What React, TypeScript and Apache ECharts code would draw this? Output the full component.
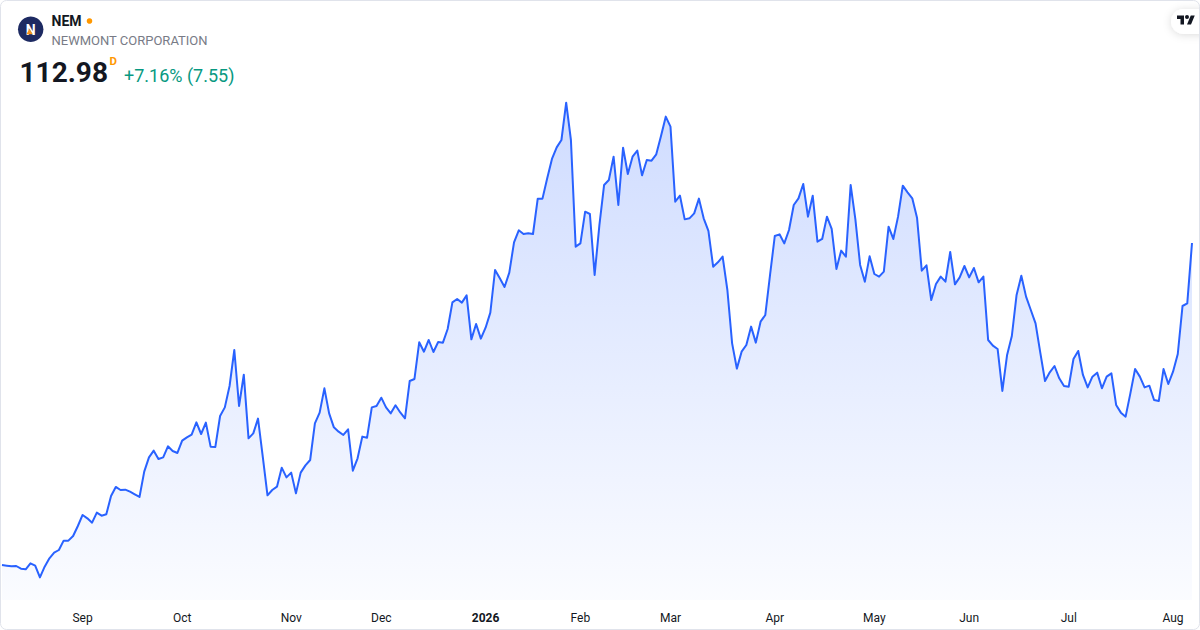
import React, { useEffect, useRef } from 'react';
import * as echarts from 'echarts';

// ---- time axis ----
const startDate = '2025-08-07';
const endDate = '2026-08-07';
const marketHolidays = [
  '2025-09-01', '2025-11-27', '2025-12-25', '2026-01-01', '2026-01-19',
  '2026-02-16', '2026-04-03', '2026-05-25', '2026-06-19', '2026-07-03',
];
const monthNames = ['Jan', 'Feb', 'Mar', 'Apr', 'May', 'Jun', 'Jul', 'Aug', 'Sep', 'Oct', 'Nov', 'Dec'];

// ---- daily closes ----
const aug2025 = [72.73, 72.65, 72.57, 72.61, 72.28, 72.19, 72.94, 72.65, 71.19, 72.53, 73.57, 74.28, 74.61, 75.78, 75.78, 76.36, 77.61];
const sep2025 = [78.99, 78.57, 78.03, 79.28, 78.9, 79.07, 81.36, 82.49, 82.11, 82.15, 81.9, 81.57, 81.24, 84.4, 86.19, 87.03, 85.99, 86.19, 87.57, 86.99, 86.74];
const oct2025 = [88.28, 88.69, 89.03, 90.57, 89.11, 90.53, 87.53, 87.49, 91.36, 92.44, 95.11, 99.61, 92.61, 96.53, 88.57, 89.19, 91.03, 86.28, 81.44, 82.11, 82.53, 84.9, 83.69];
const nov2025 = [84.28, 81.69, 84.28, 85.19, 85.86, 90.44, 91.78, 94.82, 91.69, 89.94, 89.4, 88.99, 89.69, 84.53, 86.07, 88.78, 88.65, 92.44, 92.61];
const dec2025 = [93.65, 92.44, 91.69, 92.7, 91.8, 91.07, 95.74, 95.99, 100.57, 99.4, 100.86, 99.36, 100.61, 100.53, 102.24, 105.57, 105.99, 105.53, 106.44, 100.94, 102.86, 101.03];
const jan2026 = [102.4, 104.28, 109.61, 108.57, 107.49, 109.28, 113.07, 114.57, 114.11, 114.19, 114.11, 118.53, 118.53, 121.07, 123.49, 124.94, 125.86, 130.53, 125.86, 112.53];
const feb2026 = [112.94, 116.9, 116.61, 108.99, 115.2, 120.24, 120.86, 123.78, 117.74, 124.9, 121.61, 123.78, 124.53, 121.44, 123.36, 123.28, 124.07, 126.36, 128.78];
const mar2026 = [127.53, 118.15, 118.9, 115.94, 116.07, 116.69, 118.53, 116.07, 114.49, 110.03, 110.57, 111.28, 107.11, 100.44, 97.28, 99.4, 100.24, 102.53, 100.53, 103.15, 103.99, 108.99];
const apr2026 = [113.86, 114.07, 112.94, 114.61, 117.74, 118.57, 120.36, 116.28, 118.9, 113.15, 113.49, 116.28, 114.74, 109.74, 112.03, 111.28, 120.24, 115.94, 110.24, 108.15, 111.32];
const may2026 = [109.11, 108.78, 109.4, 115.03, 113.49, 116.28, 120.15, 119.32, 118.57, 116.15, 109.53, 110.19, 105.86, 107.86, 108.78, 108.15, 111.86, 107.82, 108.69, 110.11];
const jun2026 = [108.69, 109.86, 108.07, 108.78, 100.86, 100.15, 99.74, 94.49, 98.99, 101.36, 106.49, 108.9, 106.28, 104.61, 102.94, 99.28, 95.74, 96.82, 97.61, 96.07, 95.11];
const jul2026 = [95.03, 98.49, 99.49, 96.49, 94.94, 96.28, 96.78, 94.82, 96.28, 96.69, 92.74, 91.78, 91.28, 94.19, 97.24, 96.28, 94.94, 95.15, 93.36, 93.24, 97.24, 95.36];
const aug2026 = [96.9, 99.11, 105.11, 105.43, 112.98];

// ---- header texts ----
const ticker = 'NEM';
const companyName = 'NEWMONT CORPORATION';
const lastPrice = '112.98';
const intervalMark = 'D';
const changeText = '+7.16% (7.55)';

const FONT = 'Roboto, "Noto Sans", Arial, sans-serif';

function tradingDays(): string[] {
  const out: string[] = [];
  const d = new Date(startDate + 'T00:00:00Z');
  const end = new Date(endDate + 'T00:00:00Z');
  while (d.getTime() <= end.getTime()) {
    const wd = d.getUTCDay();
    const s = d.toISOString().slice(0, 10);
    if (wd !== 0 && wd !== 6 && !marketHolidays.includes(s)) out.push(s);
    d.setUTCDate(d.getUTCDate() + 1);
  }
  return out;
}

const TV_LOGO =
  'M14 22H7V11H0V4h14v18zM28 22h-8l7.5-18h8L28 22zM20 11a4 4 0 1 0 0-8 4 4 0 0 0 0 8z';

let registered = false;
function registerShapes() {
  if (registered) return;
  registered = true;
  echarts.graphic.registerShape('tvlogo', echarts.graphic.extendPath(TV_LOGO, {}) as any);
}

export default function App() {
  const ref = useRef<HTMLDivElement>(null);

  useEffect(() => {
    if (!ref.current) return;
    registerShapes();
    const chart = echarts.init(ref.current, null, { renderer: 'svg' });

    const dates = tradingDays();
    const closes = [
      ...aug2025, ...sep2025, ...oct2025, ...nov2025, ...dec2025, ...jan2026,
      ...feb2026, ...mar2026, ...apr2026, ...may2026, ...jun2026, ...jul2026, ...aug2026,
    ];
    const monthStart = new Set<number>();
    for (let i = 1; i < dates.length; i++) {
      if (dates[i].slice(0, 7) !== dates[i - 1].slice(0, 7)) monthStart.add(i);
    }

    const option: any = {
      animation: false,
      backgroundColor: '#ffffff',
      grid: { left: 2, right: 8, top: 80, bottom: 30, containLabel: false, outerBoundsMode: 'none' },
      xAxis: {
        type: 'category',
        data: dates,
        boundaryGap: false,
        axisLine: { show: false },
        axisTick: { show: false },
        splitLine: { show: false },
        axisLabel: {
          interval: (idx: number) => monthStart.has(idx),
          formatter: (val: string) => {
            const m = +val.slice(5, 7);
            if (m === 1) return '{y|' + val.slice(0, 4) + '}';
            return monthNames[m - 1];
          },
          color: '#131722',
          fontSize: 12,
          fontFamily: FONT,
          margin: 12,
          rich: {
            y: { fontWeight: 'bold', fontSize: 12, color: '#131722', fontFamily: FONT },
          },
        },
      },
      yAxis: {
        type: 'value',
        min: 68.36,
        max: 133.36,
        show: false,
        splitLine: { show: false },
      },
      series: [
        {
          type: 'line',
          data: closes,
          showSymbol: false,
          symbol: 'none',
          lineStyle: { color: '#2962ff', width: 2, join: 'round' },
          areaStyle: {
            color: new echarts.graphic.LinearGradient(0, 0, 0, 1, [
              { offset: 0, color: 'rgba(41,98,255,0.32)' },
              { offset: 1, color: 'rgba(41,98,255,0.03)' },
            ]),
          },
          silent: true,
        },
      ],
      graphic: [
        // logo
        { type: 'circle', shape: { cx: 30.7, cy: 29.3, r: 12.7 }, style: { fill: '#1d2a62' }, z: 10 },
        {
          type: 'text', x: 30.7, y: 29.6, z: 11,
          style: { text: 'N', fill: '#ffffff', fontSize: 14, fontWeight: 'bold', fontFamily: FONT, align: 'center', verticalAlign: 'middle', textAlign: 'center', textVerticalAlign: 'middle' },
        },
        { type: 'polygon', shape: { points: [[26.3, 34.3], [29.6, 29], [32.8, 34.3]] }, style: { fill: '#f7941d' }, z: 12 },
        // ticker
        {
          type: 'text', x: 51.5, y: 21.3, z: 10,
          style: { text: ticker, fill: '#131722', fontSize: 14, fontWeight: 'bold', fontFamily: FONT, verticalAlign: 'middle', textVerticalAlign: 'middle' },
        },
        { type: 'circle', shape: { cx: 89.5, cy: 21, r: 2.8 }, style: { fill: '#ff9800' }, z: 10 },
        {
          type: 'text', x: 51.5, y: 40.7, z: 10,
          style: { text: companyName, fill: '#787b86', fontSize: 13, fontFamily: FONT, verticalAlign: 'middle', textVerticalAlign: 'middle' },
        },
        {
          type: 'text', x: 19.5, y: 72, z: 10,
          style: { text: lastPrice, fill: '#131722', fontSize: 28, fontWeight: 'bold', fontFamily: FONT, verticalAlign: 'middle', textVerticalAlign: 'middle' },
        },
        {
          type: 'text', x: 109.5, y: 61, z: 10,
          style: { text: intervalMark, fill: '#ff9800', fontSize: 11.5, fontWeight: 'bold', fontFamily: FONT, verticalAlign: 'middle', textVerticalAlign: 'middle' },
        },
        {
          type: 'text', x: 124, y: 75, z: 10,
          style: { text: changeText, fill: '#089981', fontSize: 18, fontFamily: FONT, verticalAlign: 'middle', textVerticalAlign: 'middle' },
        },
        // TradingView badge
        {
          type: 'rect', shape: { x: 1171, y: 9, width: 44, height: 25, r: 12.5 }, z: 10,
          style: { fill: '#ffffff', shadowBlur: 8, shadowColor: 'rgba(0,0,0,0.14)', shadowOffsetY: 1 },
        },
        { type: 'tvlogo', x: 1177, y: 13.5, scaleX: 0.5, scaleY: 0.5, z: 11, style: { fill: '#131722' } },
        // card border
        {
          type: 'rect', shape: { x: 0.5, y: 0.5, width: 1199, height: 629, r: 6 }, z: 20, silent: true,
          style: { fill: 'none', stroke: '#e0e3eb', lineWidth: 1 },
        },
      ],
    };

    chart.setOption(option);
    return () => {
      chart.dispose();
    };
  }, []);

  return (
    <div
      ref={ref}
      style={{ position: 'absolute', left: 0, top: 0, width: 1200, height: 630, background: '#ffffff' }}
    />
  );
}
